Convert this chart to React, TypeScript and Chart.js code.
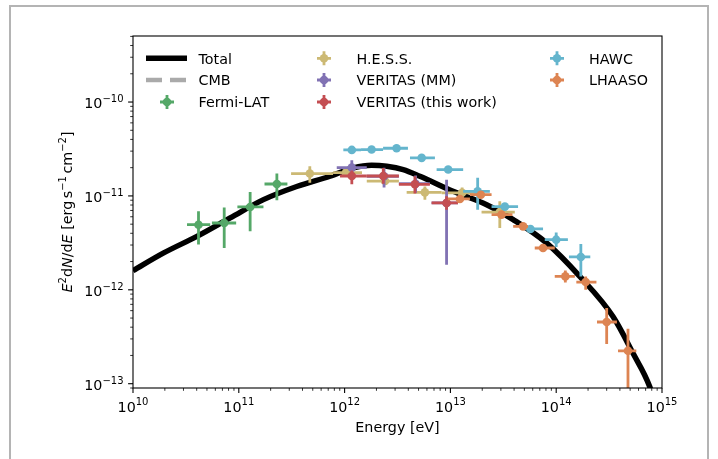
import React, { useEffect, useRef } from 'react';
import { Chart, registerables } from 'chart.js';

Chart.register(...registerables);

const FONT_FAMILY = '"DejaVu Sans", "Liberation Sans", sans-serif';
const FS = 14.3;
const SUP = 10;
const SUP_RAISE = 6.2;

// ---- Data (energy in eV, E^2 dN/dE in erg s^-1 cm^-2) ----
const totalEnergy = [1e10, 1.95e10, 4.02e10, 8.29e10, 1.71e11, 3.53e11, 7.28e11, 1.21e12, 1.8e12, 2.5e12, 3.58e12, 5.15e12, 1.06e13, 2.2e13, 3.92e13, 8.09e13, 1.67e14, 3.44e14, 5.31e14, 7.64e14, 9e14];
const totalFlux = [1.6e-12, 2.47e-12, 3.71e-12, 5.83e-12, 9.13e-12, 1.26e-11, 1.62e-11, 1.99e-11, 2.12e-11, 2.07e-11, 1.91e-11, 1.62e-11, 1.12e-11, 8.07e-12, 5.59e-12, 3.16e-12, 1.39e-12, 5.2e-13, 2.12e-13, 9.33e-14, 5e-14];

const fermiEnergy = [4.16e10, 7.28e10, 1.28e11, 2.29e11];
const fermiEnergyLo = [3.24e10, 5.57e10, 9.7e10, 1.75e11];
const fermiEnergyHi = [5.37e10, 9.44e10, 1.71e11, 2.88e11];
const fermiFlux = [4.94e-12, 5.15e-12, 7.63e-12, 1.34e-11];
const fermiFluxLo = [3.03e-12, 2.79e-12, 4.2e-12, 8.98e-12];
const fermiFluxHi = [6.85e-12, 7.55e-12, 1.1e-11, 1.73e-11];

const hessEnergy = [4.69e11, 1.03e12, 2.41e12, 5.74e12, 1.29e13, 2.93e13];
const hessEnergyLo = [3.12e11, 7.78e11, 1.62e12, 3.86e12, 8.26e12, 1.97e13];
const hessEnergyHi = [7.78e11, 1.46e12, 3.26e12, 8.26e12, 1.74e13, 4.06e13];
const hessFlux = [1.73e-11, 1.77e-11, 1.44e-11, 1.09e-11, 1.08e-11, 6.72e-12];
const hessFluxLo = [1.38e-11, 1.64e-11, 1.32e-11, 9.13e-12, 9.13e-12, 4.56e-12];
const hessFluxHi = [2.07e-11, 1.91e-11, 1.57e-11, 1.26e-11, 1.23e-11, 8.76e-12];

const vmmEnergy = [1.17e12, 2.36e12, 4.69e12, 9.2e12];
const vmmEnergyLo = [8.43e11, 1.62e12, 3.26e12, 6.64e12];
const vmmEnergyHi = [1.62e12, 3.26e12, 6.4e12, 1.18e13];
const vmmFlux = [2.0e-11, 1.62e-11, 1.35e-11, 8.42e-12];
const vmmFluxLo = [1.69e-11, 1.23e-11, 1.08e-11, 1.85e-12];
const vmmFluxHi = [2.4e-11, 2.0e-11, 1.65e-11, 1.49e-11];

const vtwEnergy = [1.17e12, 2.32e12, 4.62e12, 9.2e12];
const vtwEnergyLo = [9.05e11, 1.62e12, 3.26e12, 6.64e12];
const vtwEnergyHi = [1.62e12, 3.26e12, 6.4e12, 1.18e13];
const vtwFlux = [1.63e-11, 1.63e-11, 1.33e-11, 8.42e-12];
const vtwFluxLo = [1.33e-11, 1.35e-11, 1.06e-11, 7.14e-12];
const vtwFluxHi = [1.86e-11, 1.98e-11, 1.62e-11, 9.9e-12];

const hawcEnergy = [1.17e12, 1.8e12, 3.1e12, 5.35e12, 9.53e12, 1.81e13, 3.27e13, 5.71e13, 1.0e14, 1.71e14];
const hawcEnergyLo = [9.73e11, 1.43e12, 2.31e12, 4.15e12, 7.41e12, 1.32e13, 2.45e13, 5.05e13, 7.8e13, 1.32e14];
const hawcEnergyHi = [1.43e12, 2.31e12, 3.97e12, 7.14e12, 1.32e13, 2.36e13, 4.36e13, 7.51e13, 1.29e14, 2.1e14];
const hawcFlux = [3.09e-11, 3.12e-11, 3.22e-11, 2.54e-11, 1.91e-11, 1.12e-11, 7.69e-12, 4.45e-12, 3.42e-12, 2.24e-12];
const hawcFluxLo = [2.95e-11, 2.98e-11, 3.07e-11, 2.42e-11, 1.82e-11, 7.14e-12, 7.3e-12, 4.2e-12, 2.86e-12, 1.39e-12];
const hawcFluxHi = [3.24e-11, 3.27e-11, 3.38e-11, 2.67e-11, 2.01e-11, 1.56e-11, 8.1e-12, 4.7e-12, 4.09e-12, 3.08e-12];

const lhaasoEnergy = [1.23e13, 1.94e13, 3.04e13, 4.86e13, 7.51e13, 1.22e14, 1.9e14, 3.0e14, 4.77e14];
const lhaasoEnergyLo = [9.47e12, 1.53e13, 2.45e13, 3.92e13, 6.27e13, 9.69e13, 1.55e14, 2.43e14, 3.84e14];
const lhaasoEnergyHi = [1.53e13, 2.45e13, 3.86e13, 5.42e13, 9.69e13, 1.5e14, 2.4e14, 3.75e14, 5.72e14];
const lhaasoFlux = [9.29e-12, 1.03e-11, 6.32e-12, 4.74e-12, 2.79e-12, 1.39e-12, 1.21e-12, 4.54e-13, 2.24e-13];
const lhaasoFluxLo = [8.8e-12, 9.8e-12, 6.0e-12, 4.5e-12, 2.65e-12, 1.2e-12, 1.0e-12, 2.64e-13, 5e-14];
const lhaasoFluxHi = [9.8e-12, 1.08e-11, 6.65e-12, 5.0e-12, 2.95e-12, 1.61e-12, 1.39e-12, 6.4e-13, 3.85e-13];

const xMin = 1e10;
const xMax = 1e15;
const yMin = 9.0e-14;
const yMax = 5.05e-10;
const xTickExponents = ['10', '11', '12', '13', '14', '15'];
const yTickExponents = ['−13', '−12', '−11', '−10'];

const C = {
  fermi: '#55a868',
  hess: '#ccb974',
  vmm: '#8172b3',
  vtw: '#c44e52',
  hawc: '#64b5cd',
  lhaaso: '#dd8452',
};

type Piece = { text: string; italic?: boolean; sup?: boolean; gap?: number };

function pieceFont(p: Piece) {
  return `${p.italic ? 'italic ' : ''}${p.sup ? SUP : FS}px ${FONT_FAMILY}`;
}
function measurePieces(ctx: CanvasRenderingContext2D, pieces: Piece[]) {
  let w = 0;
  for (const p of pieces) {
    ctx.font = pieceFont(p);
    w += ctx.measureText(p.text).width + (p.gap || 0);
  }
  return w;
}
function drawPieces(ctx: CanvasRenderingContext2D, pieces: Piece[], x: number, y: number) {
  let cx = x;
  for (const p of pieces) {
    ctx.font = pieceFont(p);
    ctx.fillText(p.text, cx, p.sup ? y - SUP_RAISE : y);
    cx += ctx.measureText(p.text).width + (p.gap || 0);
  }
}

function pts(xs: number[], ys: number[]) {
  return xs.map((x, i) => ({ x, y: ys[i] }));
}
function errs(xl: number[], xh: number[], yl: number[], yh: number[]) {
  return xl.map((_, i) => ({ xl: xl[i], xh: xh[i], yl: yl[i], yh: yh[i] }));
}

const errorBarPlugin = {
  id: 'errorbars',
  beforeDatasetDraw(chart: any, args: any) {
    const ds = chart.data.datasets[args.index];
    if (!ds.errorBars) return;
    const ctx = chart.ctx as CanvasRenderingContext2D;
    const area = chart.chartArea;
    const xs = chart.scales.x;
    const ys = chart.scales.y;
    ctx.save();
    ctx.beginPath();
    ctx.rect(area.left, area.top, area.right - area.left, area.bottom - area.top);
    ctx.clip();
    ctx.strokeStyle = ds.backgroundColor;
    ctx.lineWidth = 2.8;
    ctx.lineCap = 'butt';
    ds.data.forEach((p: any, i: number) => {
      const e = ds.errorBars[i];
      const px = xs.getPixelForValue(p.x);
      const py = ys.getPixelForValue(p.y);
      ctx.beginPath();
      ctx.moveTo(xs.getPixelForValue(e.xl), py);
      ctx.lineTo(xs.getPixelForValue(e.xh), py);
      ctx.moveTo(px, ys.getPixelForValue(e.yl));
      ctx.lineTo(px, ys.getPixelForValue(e.yh));
      ctx.stroke();
    });
    ctx.restore();
  },
};

const legendItems = [
  { label: 'Total', kind: 'line', color: '#000000', col: 0, row: 0 },
  { label: 'CMB', kind: 'dash', color: '#aaaaaa', col: 0, row: 1 },
  { label: 'Fermi-LAT', kind: 'err', color: C.fermi, col: 0, row: 2 },
  { label: 'H.E.S.S.', kind: 'err', color: C.hess, col: 1, row: 0 },
  { label: 'VERITAS (MM)', kind: 'err', color: C.vmm, col: 1, row: 1 },
  { label: 'VERITAS (this work)', kind: 'err', color: C.vtw, col: 1, row: 2 },
  { label: 'HAWC', kind: 'err', color: C.hawc, col: 2, row: 0 },
  { label: 'LHAASO', kind: 'err', color: C.lhaaso, col: 2, row: 1 },
];

const axesPlugin = {
  id: 'axesdeco',
  afterDraw(chart: any) {
    const ctx = chart.ctx as CanvasRenderingContext2D;
    const a = chart.chartArea;
    const xs = chart.scales.x;
    const ys = chart.scales.y;
    ctx.save();
    ctx.strokeStyle = '#000';
    ctx.fillStyle = '#000';
    // spines
    ctx.lineWidth = 1.1;
    ctx.strokeRect(a.left, a.top, a.right - a.left, a.bottom - a.top);
    // x ticks
    for (let n = 10; n <= 15; n++) {
      for (let k = 1; k <= 9; k++) {
        const v = k * Math.pow(10, n);
        if (v > xMax * 1.0001) break;
        const px = xs.getPixelForValue(v);
        const major = k === 1;
        ctx.lineWidth = major ? 1.1 : 0.8;
        ctx.beginPath();
        ctx.moveTo(px, a.bottom);
        ctx.lineTo(px, a.bottom + (major ? 4.9 : 2.8));
        ctx.stroke();
      }
    }
    // y ticks
    for (let n = -14; n <= -10; n++) {
      for (let k = 1; k <= 9; k++) {
        const v = k * Math.pow(10, n);
        if (v < yMin || v > yMax) continue;
        const py = ys.getPixelForValue(v);
        const major = k === 1;
        ctx.lineWidth = major ? 1.1 : 0.8;
        ctx.beginPath();
        ctx.moveTo(a.left, py);
        ctx.lineTo(a.left - (major ? 4.9 : 2.8), py);
        ctx.stroke();
      }
    }
    ctx.textBaseline = 'alphabetic';
    ctx.textAlign = 'left';
    // x tick labels
    xTickExponents.forEach((ex) => {
      const px = xs.getPixelForValue(Math.pow(10, Number(ex)));
      const pieces: Piece[] = [{ text: '10' }, { text: ex, sup: true }];
      const w = measurePieces(ctx, pieces);
      drawPieces(ctx, pieces, px - w / 2, 411.5);
    });
    // y tick labels
    yTickExponents.forEach((ex) => {
      const py = ys.getPixelForValue(Math.pow(10, Number(ex.replace('−', '-'))));
      const pieces: Piece[] = [{ text: '10' }, { text: ex, sup: true }];
      const w = measurePieces(ctx, pieces);
      drawPieces(ctx, pieces, a.left - 9.5 - w, py + 6);
    });
    // x axis title
    ctx.font = `${FS}px ${FONT_FAMILY}`;
    ctx.textAlign = 'center';
    ctx.fillText('Energy [eV]', (a.left + a.right) / 2, 432);
    ctx.textAlign = 'left';
    // y axis title
    const yl: Piece[] = [
      { text: 'E', italic: true },
      { text: '2', sup: true },
      { text: 'd' },
      { text: 'N', italic: true },
      { text: '/' },
      { text: 'd' },
      { text: 'E', italic: true },
      { text: ' [erg', gap: 2.5 },
      { text: 's' },
      { text: '−1', sup: true, gap: 2.5 },
      { text: 'cm' },
      { text: '−2', sup: true },
      { text: ']' },
    ];
    const wy = measurePieces(ctx, yl);
    ctx.save();
    ctx.translate(72, (a.top + a.bottom) / 2);
    ctx.rotate(-Math.PI / 2);
    drawPieces(ctx, yl, -wy / 2, 0);
    ctx.restore();
    // legend
    const colHandle = [167, 324, 557];
    const colText = [198.5, 356.5, 589];
    const rowY = [58.3, 80, 102];
    legendItems.forEach((it) => {
      const cx = colHandle[it.col];
      const cy = rowY[it.row];
      ctx.save();
      if (it.kind === 'line') {
        ctx.strokeStyle = it.color;
        ctx.lineWidth = 5.5;
        ctx.beginPath();
        ctx.moveTo(146, cy);
        ctx.lineTo(187, cy);
        ctx.stroke();
      } else if (it.kind === 'dash') {
        ctx.strokeStyle = it.color;
        ctx.lineWidth = 4.3;
        ctx.setLineDash([16, 8]);
        ctx.beginPath();
        ctx.moveTo(146, cy);
        ctx.lineTo(187, cy);
        ctx.stroke();
      } else {
        ctx.strokeStyle = it.color;
        ctx.fillStyle = it.color;
        ctx.lineWidth = 2.8;
        ctx.beginPath();
        ctx.moveTo(cx - 7, cy);
        ctx.lineTo(cx + 7, cy);
        ctx.moveTo(cx, cy - 7);
        ctx.lineTo(cx, cy + 7);
        ctx.stroke();
        ctx.beginPath();
        ctx.arc(cx, cy, 4.3, 0, Math.PI * 2);
        ctx.fill();
      }
      ctx.restore();
      ctx.fillStyle = '#000';
      ctx.font = `${FS}px ${FONT_FAMILY}`;
      ctx.fillText(it.label, colText[it.col], cy + 5.2);
    });
    ctx.restore();
  },
};

function errSet(label: string, color: string, order: number, data: any[], errorBars: any[]) {
  return {
    label,
    data,
    errorBars,
    order,
    backgroundColor: color,
    borderColor: color,
    pointRadius: 4.3,
    pointBorderWidth: 0,
    pointHoverRadius: 4.3,
    showLine: false,
  } as any;
}

export default function App() {
  const ref = useRef<HTMLCanvasElement | null>(null);
  useEffect(() => {
    if (!ref.current) return;
    const chart = new Chart(ref.current, {
      type: 'scatter',
      data: {
        datasets: [
          {
            label: 'CMB',
            data: pts(totalEnergy, totalFlux),
            order: 11,
            showLine: true,
            borderColor: '#aaaaaa',
            borderDash: [16, 8],
            borderWidth: 3,
            pointRadius: 0,
            cubicInterpolationMode: 'monotone',
            clip: 0,
          } as any,
          {
            label: 'Total',
            data: pts(totalEnergy, totalFlux),
            order: 10,
            showLine: true,
            borderColor: '#000000',
            backgroundColor: '#000000',
            borderWidth: 5.5,
            pointRadius: 0,
            cubicInterpolationMode: 'monotone',
            clip: 0,
          } as any,
          errSet('Fermi-LAT', C.fermi, 6, pts(fermiEnergy, fermiFlux), errs(fermiEnergyLo, fermiEnergyHi, fermiFluxLo, fermiFluxHi)),
          errSet('H.E.S.S.', C.hess, 5, pts(hessEnergy, hessFlux), errs(hessEnergyLo, hessEnergyHi, hessFluxLo, hessFluxHi)),
          errSet('VERITAS (MM)', C.vmm, 4, pts(vmmEnergy, vmmFlux), errs(vmmEnergyLo, vmmEnergyHi, vmmFluxLo, vmmFluxHi)),
          errSet('VERITAS (this work)', C.vtw, 3, pts(vtwEnergy, vtwFlux), errs(vtwEnergyLo, vtwEnergyHi, vtwFluxLo, vtwFluxHi)),
          errSet('HAWC', C.hawc, 2, pts(hawcEnergy, hawcFlux), errs(hawcEnergyLo, hawcEnergyHi, hawcFluxLo, hawcFluxHi)),
          errSet('LHAASO', C.lhaaso, 1, pts(lhaasoEnergy, lhaasoFlux), errs(lhaasoEnergyLo, lhaasoEnergyHi, lhaasoFluxLo, lhaasoFluxHi)),
        ],
      },
      options: {
        animation: false,
        responsive: false,
        events: [],
        layout: { padding: { top: 36, right: 56, left: 0, bottom: 0 } },
        plugins: { legend: { display: false }, tooltip: { enabled: false }, title: { display: false } },
        scales: {
          x: {
            type: 'logarithmic',
            min: xMin,
            max: xMax,
            ticks: { display: false },
            grid: { display: false },
            border: { display: false },
            afterFit: (s: any) => {
              s.height = 459 - 388;
            },
          },
          y: {
            type: 'logarithmic',
            min: yMin,
            max: yMax,
            ticks: { display: false },
            grid: { display: false },
            border: { display: false },
            afterFit: (s: any) => {
              s.width = 133;
            },
          },
        },
      } as any,
      plugins: [errorBarPlugin, axesPlugin],
    });
    return () => chart.destroy();
  }, []);
  return (
    <div style={{ position: 'fixed', left: 0, top: 0, width: 718, height: 459, background: '#fff', overflow: 'hidden' }}>
      <canvas ref={ref} width={718} height={459} style={{ display: 'block', width: 718, height: 459 }} />
      <div
        style={{
          position: 'absolute',
          left: 9,
          top: 5,
          width: 696,
          height: 600,
          borderLeft: '2px solid #b4b4b4',
          borderTop: '2px solid #b4b4b4',
          borderRight: '2px solid #b4b4b4',
          pointerEvents: 'none',
        }}
      />
    </div>
  );
}
